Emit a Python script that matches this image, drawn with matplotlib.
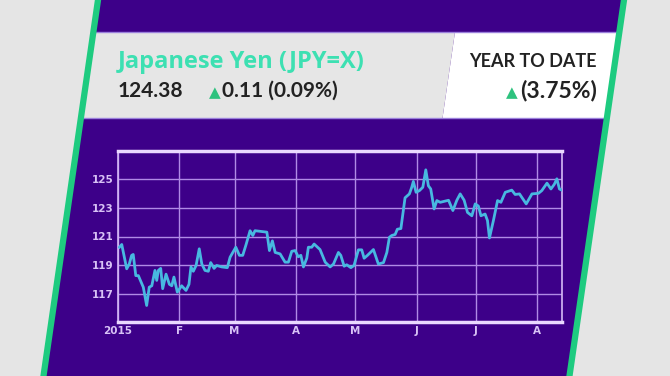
import numpy as np
import pandas as pd
import matplotlib
matplotlib.use("Agg")
import matplotlib.pyplot as plt
import matplotlib.dates as mdates
from matplotlib.patches import Polygon

# days since 2015-01-01 and JPY=X close
days = [0.7, 1.9, 4.4, 5.7, 6.9, 7.7, 9.0, 10.3, 12.8, 14.5, 15.8, 17.1, 18.7, 19.6,
        20.4, 21.6, 22.6, 24.3, 26.0, 27.2, 28.3, 30.0, 32.2, 34.4, 35.9, 36.9, 38.1,
        39.5, 41.1, 42.4, 44.0, 45.7, 46.9, 48.6, 49.9, 52.5, 55.3, 56.7, 59.6, 61.4,
        63.1, 64.8, 66.8, 68.2, 69.3, 75.3, 76.6, 78.1, 79.5, 82.0, 84.5, 86.2, 87.9,
        89.6, 91.2, 92.5, 93.8, 95.5, 96.3, 98.0, 99.2, 102.2, 104.8, 107.3, 109.0,
        111.5, 112.7, 114.4, 115.7, 117.8, 119.4, 121.6, 123.3, 124.5, 126.2, 129.2,
        131.7, 134.3, 136.0, 137.3,
        138.5, 140.2, 141.3, 143.1, 145.2, 147.4, 148.6, 149.4, 150.8, 152.5, 154.2,
        155.7, 157.0, 158.2, 159.9, 161.3, 163.0, 167.2, 169.4, 171.4, 173.1, 175.1,
        176.8, 179.0, 180.7, 182.3, 183.6, 185.7, 186.9, 187.9, 189.9, 192.0, 193.7,
        195.9, 199.2, 200.9, 203.1, 206.5, 209.4, 212.7, 214.4, 217.0, 219.0, 220.7,
        222.0, 223.3, 224.5]
kurs = [120.26, 120.45, 118.77, 119.1, 119.7, 119.76, 118.3, 118.3, 117.5, 116.24,
        117.5, 117.6, 118.66, 117.97, 118.66, 118.8, 117.4, 118.4, 117.7, 117.6, 118.2,
        117.16, 117.6, 117.28, 117.7, 118.9, 118.6, 119.0, 120.15, 119.1, 118.66, 118.6,
        119.2, 118.8, 119.0, 118.9, 118.85, 119.57, 120.26, 119.7, 119.7, 120.45, 121.4,
        121.07, 121.4, 121.3, 120.03, 120.7, 119.9, 119.8, 119.23, 119.23, 119.98,
        120.03, 119.6, 119.7, 118.9, 119.5, 120.26, 120.26, 120.48, 120.1, 119.23, 118.9,
        119.1, 119.9, 119.7, 118.95, 119.05, 118.85, 119.0, 120.08, 120.08, 119.5, 119.7,
        120.1, 119.1, 119.2, 119.9, 120.95,
        121.07, 121.14, 121.5, 121.55, 123.67, 123.94, 124.4, 124.8, 124.05, 124.17,
        124.4, 125.6, 124.5, 124.28, 122.9, 123.48, 123.36, 123.5, 122.79, 123.5, 123.94,
        123.5, 122.66, 122.43, 123.25, 123.1, 122.43, 122.55, 122.1, 120.9, 122.1,
        123.48, 123.36, 124.05, 124.2, 123.9, 123.94, 123.25, 123.94, 123.98, 124.17,
        124.68, 124.28, 124.6, 124.98, 124.28, 124.2]
manudir = ["2015", "F", "M", "A", "M", "J", "J", "A"]
y_ticks = [117, 119, 121, 123, 125]

heiti = "Japanese Yen (JPY=X)"
gildi = "124.38"
breyting = "0.11 (0.09%)"
ytd_heiti = "YEAR TO DATE"
ytd = "(3.75%)"

# litir
fjolubla = "#3d0089"
graent = "#1ecb80"
grar = "#e5e5e5"
lina_litur = "#48b8e0"
net_litur = "#b08ae6"
texti_litur = "#d8c2f6"

W, H = 670, 376
fig = plt.figure(figsize=(W / 100, H / 100), dpi=100)
fig.patch.set_facecolor(grar)

# bakgrunnur i pixlahnitum
bg = fig.add_axes([0, 0, 1, 1])
bg.set_xlim(0, W)
bg.set_ylim(H, 0)
bg.axis("off")

halli = 0.145
def vinstri(y):
    return 98 - halli * y
def haegri(y):
    return 624 - halli * y

y0, y1 = -5, H + 5
bg.add_patch(Polygon([[vinstri(y0), y0], [haegri(y0), y0], [haegri(y1), y1], [vinstri(y1), y1]],
                     closed=True, fc=fjolubla, ec="none"))

# hvita/graa bandid efst
b0, b1 = 32, 118
def skil(y):
    return 455 - halli * (y - b0)
bg.add_patch(Polygon([[vinstri(b0), b0], [skil(b0), b0], [skil(b1), b1], [vinstri(b1), b1]],
                     closed=True, fc="#e6e6e6", ec="none"))
bg.add_patch(Polygon([[skil(b0), b0], [haegri(b0), b0], [haegri(b1), b1], [skil(b1), b1]],
                     closed=True, fc="white", ec="none"))
for yb in (b0, b1):
    bg.plot([vinstri(yb), haegri(yb)], [yb, yb], color="#9b80dc", lw=1.0)

# graenar brunir
bg.plot([vinstri(y0), vinstri(y1)], [y0, y1], color=graent, lw=4.5, solid_capstyle="butt")
bg.plot([haegri(y0), haegri(y1)], [y0, y1], color=graent, lw=4.5, solid_capstyle="butt")

letur = ["Lato", "DejaVu Sans"]
bg.text(118, 68, heiti, color="#3de0b2", fontsize=17, fontweight="bold",
        family=["Open Sans", "DejaVu Sans"], va="baseline", ha="left")
bg.text(118, 97, gildi, color="#222222", fontsize=15, fontweight="bold",
        family=letur, va="baseline", ha="left")
bg.text(221, 97, "\u25b2", color="#2ec27e", fontsize=11, family="DejaVu Sans",
        va="baseline", ha="right")
bg.text(222, 97, breyting, color="#222222", fontsize=15, fontweight="bold",
        family=letur, va="baseline", ha="left")
bg.text(597, 67, ytd_heiti, color="#222222", fontsize=13, fontweight="bold",
        family=letur, va="baseline", ha="right")
bg.text(597, 97, ytd, color="#222222", fontsize=16.5, fontweight="bold",
        family=letur, va="baseline", ha="right")
bg.text(518, 97, "\u25b2", color="#2ec27e", fontsize=11, family="DejaVu Sans",
        va="baseline", ha="right")

# grafid
ax = fig.add_axes([118 / W, 1 - 322 / H, (562 - 118) / W, (322 - 151) / H])
ax.set_facecolor(fjolubla)
byrjun = pd.Timestamp("2015-01-01")
dags = [byrjun + pd.Timedelta(days=d) for d in days]
ax.plot(dags, kurs, color=lina_litur, lw=2.0, zorder=3)

manadar = pd.date_range("2015-01-01", periods=len(manudir), freq="MS")
ax.set_xticks(manadar)
ax.set_xticklabels(manudir)
ax.set_xlim(byrjun, byrjun + pd.Timedelta(days=224.6))
ax.set_yticks(y_ticks)
ax.set_ylim(115.1, 126.9)
ax.grid(True, color=net_litur, lw=1.0)
ax.set_axisbelow(True)
ax.tick_params(length=0, colors=texti_litur, labelsize=7.5, pad=3)
for lab in ax.get_xticklabels() + ax.get_yticklabels():
    lab.set_fontweight("bold")
for s in ("top", "bottom"):
    ax.spines[s].set_color("#ead8ff")
    ax.spines[s].set_linewidth(2.5)
for s in ("left", "right"):
    ax.spines[s].set_color("#d6bbf7")
    ax.spines[s].set_linewidth(1.2)

fig.savefig("out.png", dpi=100, facecolor=fig.get_facecolor())
